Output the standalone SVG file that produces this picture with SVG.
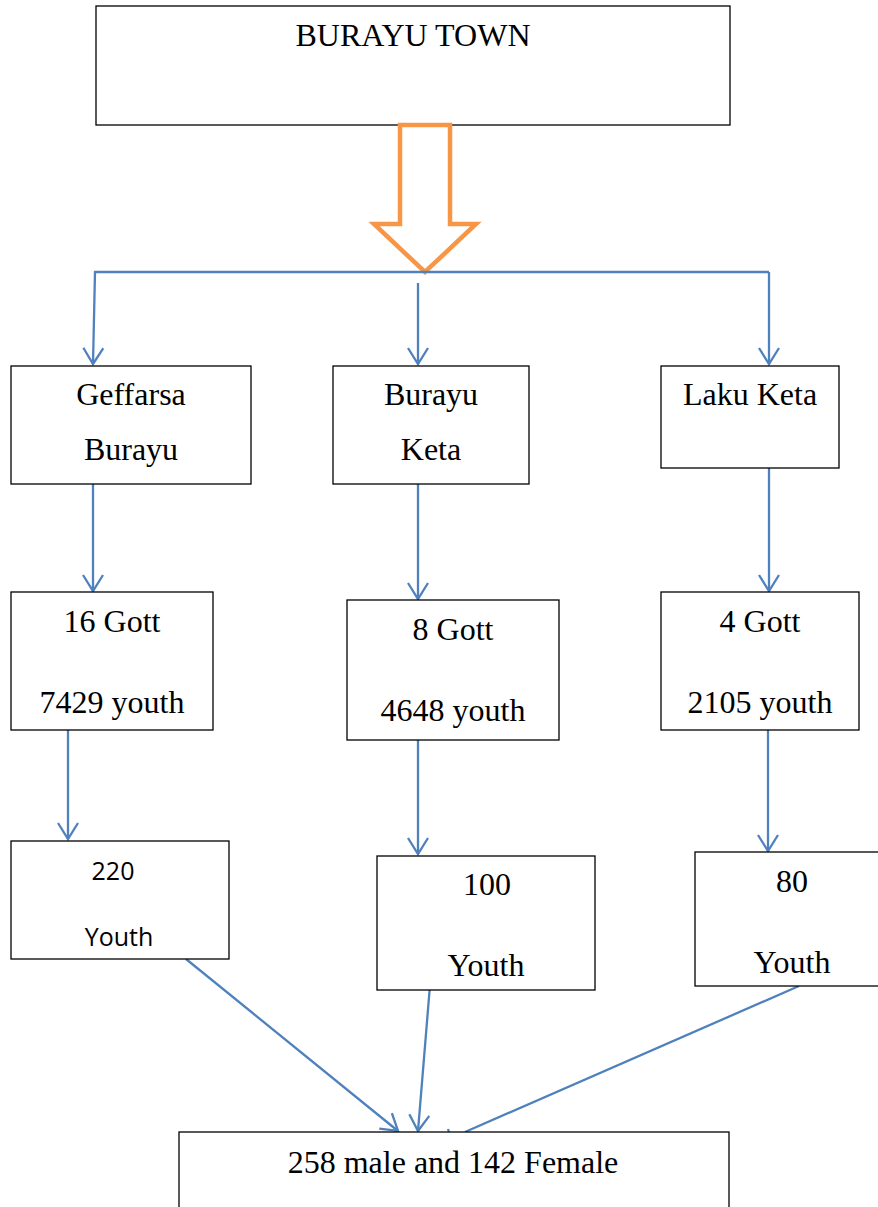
<svg xmlns="http://www.w3.org/2000/svg" width="878" height="1207" viewBox="0 0 878 1207">
<style>
.box{fill:#fff;stroke:#000;stroke-width:1.3}
.t{font-family:"Liberation Serif","Times New Roman",serif;font-size:32px;fill:#000;text-anchor:middle}
.s{font-family:"Open Sans","Liberation Sans",sans-serif;font-size:25px;fill:#000;text-anchor:middle}
.c{fill:none;stroke:#4F81BD;stroke-width:2.3}
</style>
<defs>
<marker id="ah" markerWidth="24" markerHeight="24" refX="17" refY="11" orient="auto" markerUnits="userSpaceOnUse">
<path d="M1,1 L17,11 L1,21" fill="none" stroke="#4F81BD" stroke-width="2.3"/>
</marker>
</defs>
<rect width="878" height="1207" fill="#fff"/>
<g id="burayu-town"><rect class="box" x="96" y="6" width="634" height="119"/><text class="t" x="413" y="46">BURAYU TOWN</text></g>
<g id="big-arrow"><path d="M400,125 L450,125 L450,224 L476,224 L425,272 L374,224 L400,224 Z" fill="#fff" stroke="#F79646" stroke-width="4.5" stroke-linejoin="miter"/></g>
<g id="connectors">
<path class="c" d="M769,272 L95,272 L93,364" marker-end="url(#ah)"/>
<path class="c" d="M769,272 L769,364" marker-end="url(#ah)"/>
<path class="c" d="M418,283 L418,364" marker-end="url(#ah)"/>
<path class="c" d="M93,484 L93,591" marker-end="url(#ah)"/>
<path class="c" d="M418,484 L418,599" marker-end="url(#ah)"/>
<path class="c" d="M769,468 L769,591" marker-end="url(#ah)"/>
<path class="c" d="M68,730 L68,839" marker-end="url(#ah)"/>
<path class="c" d="M418,740 L418,854" marker-end="url(#ah)"/>
<path class="c" d="M768,730 L768,851" marker-end="url(#ah)"/>
<path class="c" d="M186,959 L398,1131" marker-end="url(#ah)"/>
<path class="c" d="M431,973 L418,1131" marker-end="url(#ah)"/>
<path class="c" d="M799,986 L465,1132"/>
<path class="c" d="M448,1129 L449,1132"/>
</g>
<g id="geffarsa-burayu"><rect class="box" x="11" y="366" width="240" height="118"/><text class="t" x="131" y="405">Geffarsa</text><text class="t" x="131" y="460">Burayu</text></g>
<g id="burayu-keta"><rect class="box" x="333" y="366" width="196" height="118"/><text class="t" x="431" y="405">Burayu</text><text class="t" x="431" y="460">Keta</text></g>
<g id="laku-keta"><rect class="box" x="661" y="366" width="178" height="102"/><text class="t" x="750" y="405">Laku Keta</text></g>
<g id="gott-16"><rect class="box" x="11" y="592" width="202" height="138"/><text class="t" x="112" y="632">16 Gott</text><text class="t" x="112" y="713">7429 youth</text></g>
<g id="gott-8"><rect class="box" x="347" y="600" width="212" height="140"/><text class="t" x="453" y="640">8 Gott</text><text class="t" x="453" y="721">4648 youth</text></g>
<g id="gott-4"><rect class="box" x="661" y="592" width="198" height="138"/><text class="t" x="760" y="632">4 Gott</text><text class="t" x="760" y="713">2105 youth</text></g>
<g id="youth-220"><rect class="box" x="11" y="841" width="218" height="118"/><text class="s" x="113" y="880">220</text><text class="s" x="119" y="946">Youth</text></g>
<g id="youth-100"><rect class="box" x="377" y="856" width="218" height="134"/><text class="t" x="487" y="895">100</text><text class="t" x="486" y="976">Youth</text></g>
<g id="youth-80"><rect class="box" x="695" y="852" width="190" height="134"/><text class="t" x="792" y="892">80</text><text class="t" x="792" y="973">Youth</text></g>
<g id="total"><rect class="box" x="179" y="1132" width="550" height="90"/><text class="t" x="453" y="1173">258 male and 142 Female</text></g>
</svg>
